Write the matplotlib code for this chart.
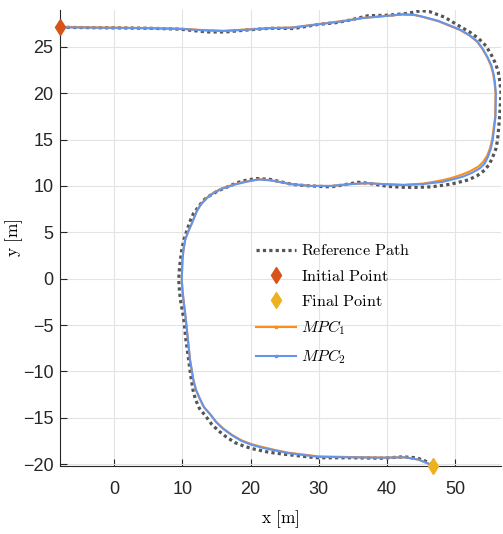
import numpy as np
import matplotlib.pyplot as plt
from matplotlib.lines import Line2D

# reference path (x, y) in metres
ref_path = np.array([
    [-7.9, 27.1], [-2.0, 27.05], [5.0, 27.0], [9.7, 26.9], [11.9, 26.72],
    [13.8, 26.6], [16.3, 26.6], [19.3, 26.8], [22.9, 27.0], [26.3, 26.97],
    [29.8, 27.4], [32.5, 27.6], [34.7, 27.9], [37.2, 28.35], [40.1, 28.4],
    [43.0, 28.6], [45.0, 28.9], [46.2, 28.8], [48.4, 28.2], [50.9, 27.1],
    [52.2, 26.55], [53.4, 25.9], [54.5, 25.1], [55.3, 24.1], [55.9, 23.2],
    [56.3, 22.3], [56.55, 21.2], [56.7, 20.0], [56.5, 17.45], [56.2, 14.95],
    [55.95, 14.0], [55.5, 13.15], [55.0, 12.35], [54.3, 11.7], [53.2, 11.1],
    [51.9, 10.65], [49.4, 10.2], [46.5, 9.9], [44.5, 9.85], [42.5, 9.85],
    [40.1, 9.95], [37.2, 10.3], [35.7, 10.4], [34.7, 10.25], [31.8, 9.9],
    [28.8, 10.0], [26.9, 10.1], [25.9, 10.2], [22.9, 10.7], [21.0, 10.8],
    [19.5, 10.65], [18.0, 10.35], [16.6, 9.9], [15.3, 9.5], [14.1, 9.0],
    [13.4, 8.65], [12.9, 8.3], [12.2, 7.6], [11.6, 7.0], [11.2, 6.35],
    [10.7, 5.3], [10.2, 4.2], [9.9, 3.1], [9.7, 2.05], [9.55, 1.0],
    [9.46, -0.1], [9.55, -1.2], [9.7, -2.26], [10.2, -4.4], [10.5, -6.56],
    [10.9, -8.7], [11.3, -10.9], [11.55, -12.0], [11.9, -13.0], [12.5, -14.0],
    [13.4, -14.8], [14.3, -15.7], [15.3, -16.4], [16.5, -17.1], [17.8, -17.7],
    [19.2, -18.1], [20.7, -18.4], [22.6, -18.7], [24.7, -18.9], [29.6, -19.3],
    [34.5, -19.3], [39.4, -19.35], [42.3, -19.2], [44.3, -19.3], [45.6, -19.65],
    [46.8, -20.15],
])

mpc2_path = np.array([
    [-7.9, 27.1], [-2.0, 27.05], [5.0, 27.0], [10.0, 26.92], [13.0, 26.78],
    [16.0, 26.7], [19.0, 26.82], [22.9, 27.0], [26.0, 27.05], [30.3, 27.45],
    [33.5, 27.75], [36.5, 28.1], [39.5, 28.3], [42.3, 28.5], [44.0, 28.45],
    [45.2, 28.25], [47.5, 27.8], [49.2, 27.3], [50.7, 26.85], [52.1, 26.25],
    [53.2, 25.6], [54.0, 24.8], [54.7, 23.9], [55.3, 23.0], [55.6, 22.1],
    [55.8, 21.2], [55.95, 20.0], [55.9, 17.5], [55.5, 15.0], [55.2, 14.0],
    [54.8, 13.15], [54.3, 12.4], [53.6, 11.9], [52.4, 11.4], [51.1, 11.0],
    [49.6, 10.7], [48.2, 10.45], [45.3, 10.2], [42.4, 10.1], [39.4, 10.2],
    [37.0, 10.3], [34.7, 10.2], [31.8, 10.0], [28.8, 10.0], [25.9, 10.2],
    [22.9, 10.6], [21.2, 10.7], [19.4, 10.45], [17.7, 10.15], [16.0, 9.75],
    [14.7, 9.3], [13.6, 8.7], [12.7, 8.0], [12.1, 7.25], [11.4, 6.0],
    [10.85, 5.1], [10.4, 4.2], [10.15, 3.1], [10.0, 2.05], [9.95, 1.0],
    [9.9, -0.1], [10.0, -1.2], [10.15, -2.26], [10.5, -4.4], [10.8, -6.56],
    [11.1, -8.7], [11.6, -10.9], [12.0, -12.0], [12.6, -13.0], [13.2, -13.9],
    [14.05, -14.6], [15.0, -15.5], [16.0, -16.2], [17.3, -16.9], [18.7, -17.5],
    [20.1, -17.9], [21.6, -18.2], [23.5, -18.5], [25.5, -18.8], [29.9, -19.2],
    [34.5, -19.25], [39.4, -19.3], [42.6, -19.25], [44.6, -19.5], [46.8, -20.15],
])

mpc1_path = np.array([
    [-7.9, 27.15], [-2.0, 27.08], [5.0, 27.02], [10.0, 26.94], [13.0, 26.8],
    [16.0, 26.72], [19.0, 26.85], [22.9, 27.02], [26.0, 27.08], [30.3, 27.48],
    [33.5, 27.78], [36.5, 28.12], [39.5, 28.3], [42.3, 28.48], [44.0, 28.42],
    [45.2, 28.22], [47.5, 27.75], [49.2, 27.25], [50.7, 26.8], [52.1, 26.2],
    [53.2, 25.55], [54.0, 24.75], [54.7, 23.85], [55.2, 23.0], [55.55, 22.1],
    [55.75, 21.2], [55.9, 20.0], [55.85, 17.5], [55.4, 15.0], [55.1, 14.1],
    [54.7, 13.3], [54.1, 12.6], [53.4, 12.1], [52.2, 11.6], [50.9, 11.2],
    [49.4, 10.85], [48.0, 10.6], [45.3, 10.25], [42.4, 10.12], [39.4, 10.2],
    [37.0, 10.3], [34.7, 10.2], [31.8, 10.0], [28.8, 10.0], [25.9, 10.2],
    [22.9, 10.62], [21.2, 10.72], [19.4, 10.5], [17.7, 10.2], [16.0, 9.8],
    [14.7, 9.35], [13.6, 8.75], [12.7, 8.05], [12.1, 7.3], [11.4, 6.0],
    [10.85, 5.1], [10.4, 4.2], [10.15, 3.1], [10.0, 2.05], [9.95, 1.0],
    [9.9, -0.1], [10.0, -1.2], [10.15, -2.26], [10.5, -4.4], [10.8, -6.56],
    [11.1, -8.7], [11.6, -10.9], [11.95, -11.95], [12.5, -12.9], [13.1, -13.8],
    [13.95, -14.5], [14.9, -15.4], [15.9, -16.1], [17.2, -16.8], [18.6, -17.4],
    [20.0, -17.8], [21.5, -18.1], [23.5, -18.45], [25.5, -18.75], [29.9, -19.15],
    [34.5, -19.22], [39.4, -19.28], [42.6, -19.25], [44.6, -19.5], [46.8, -20.15],
])

initial_point = (-7.9, 27.1)
final_point = (46.8, -20.15)

x_ticks = [0, 10, 20, 30, 40, 50]
y_ticks = [-20, -15, -10, -5, 0, 5, 10, 15, 20, 25]

plt.rcParams['mathtext.fontset'] = 'cm'
plt.rcParams['font.family'] = ['Liberation Sans', 'DejaVu Sans']

fig = plt.figure(figsize=(5.03, 5.34), dpi=100)
ax = fig.add_axes([0.12, 0.128, 0.876, 0.853])

ax.grid(True, color='#e3e3e3', linewidth=0.8)
ax.set_axisbelow(True)

ax.plot(ref_path[:, 0], ref_path[:, 1], color='#555555', lw=2.3,
        linestyle=(0, (1, 1)), zorder=2)
ax.plot(mpc1_path[:, 0], mpc1_path[:, 1], color='#ff8c1a', lw=1.5, zorder=3)
ax.plot(mpc2_path[:, 0], mpc2_path[:, 1], color='#6495ed', lw=1.5, zorder=4)
ax.plot(*initial_point, 'd', color='#d95319', ms=8, zorder=5, clip_on=False)
ax.plot(*final_point, 'd', color='#edb120', ms=8, zorder=5, clip_on=False)

ax.set_xlim(-7.9, 56.7)
ax.set_ylim(-20.15, 28.95)
ax.set_xticks(x_ticks)
ax.set_yticks(y_ticks)
ax.tick_params(direction='in', length=5, labelsize=13, colors='#262626')
ax.tick_params(axis='x', pad=11)
ax.tick_params(axis='y', pad=5)
for s in ['top', 'right']:
    ax.spines[s].set_visible(False)
for s in ['left', 'bottom']:
    ax.spines[s].set_color('#262626')

ax.set_xlabel(r'$\mathrm{x\ [m]}$', fontsize=12.5)
ax.set_ylabel(r'$\mathrm{y\ [m]}$', fontsize=12.5)
ax.xaxis.set_label_coords(0.5, -0.093)
ax.yaxis.set_label_coords(-0.08, 0.5)

handles = [
    Line2D([], [], color='#555555', lw=2.3, linestyle=(0, (1, 1))),
    Line2D([], [], color='#d95319', marker='d', ms=8, lw=0),
    Line2D([], [], color='#edb120', marker='d', ms=8, lw=0),
    Line2D([], [], color='#ff8c1a', lw=1.5, marker='s', ms=2, markevery=[1]),
    Line2D([], [], color='#6495ed', lw=1.5, marker='s', ms=2, markevery=[1]),
]
labels = [r'$\mathrm{Reference\ Path}$', r'$\mathrm{Initial\ Point}$',
          r'$\mathrm{Final\ Point}$', r'$MPC_1$', r'$MPC_2$']
leg = ax.legend(handles, labels, loc='upper left', bbox_to_anchor=(0.429, 0.502),
                frameon=False, fontsize=11.7, handlelength=2.46,
                handletextpad=0.3, labelspacing=0.62, borderaxespad=0)

fig.savefig('out.png', dpi=100)
